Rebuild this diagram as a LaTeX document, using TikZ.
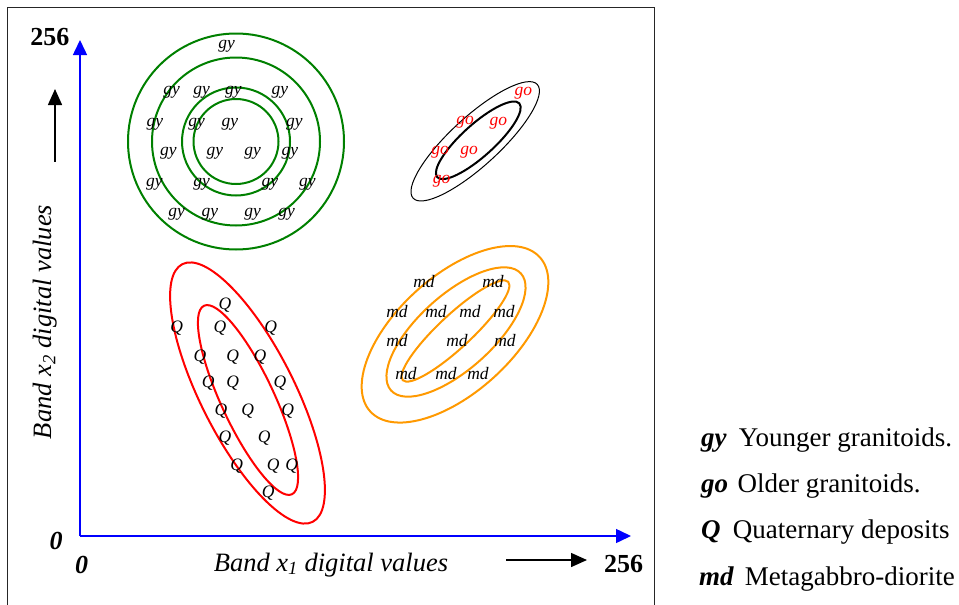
\documentclass[tikz,border=0pt]{standalone}
\usepackage{fontspec}
\setmainfont{Liberation Serif}
\usetikzlibrary{arrows.meta}
\definecolor{ringgreen}{RGB}{0,128,0}
\definecolor{ringorange}{RGB}{255,153,0}
\begin{document}
\begin{tikzpicture}[x=1pt,y=-1pt,
  lab/.style={font=\fontsize{17.5}{17.5}\selectfont\itshape, inner sep=0pt},
  golab/.style={lab, text=red},
  big/.style={font=\fontsize{26}{26}\selectfont\bfseries, inner sep=0pt},
  bigit/.style={font=\fontsize{26}{26}\selectfont\bfseries\itshape, inner sep=0pt},
  axistitle/.style={font=\fontsize{26.5}{26.5}\selectfont\itshape, inner sep=0pt, anchor=base},
  legend/.style={font=\fontsize{27}{27}\selectfont, inner sep=0pt, anchor=base west},
  axis/.style={blue, line width=1.5pt, -{Triangle[length=15pt,width=14pt]}},
  hint/.style={black, line width=1.5pt, -{Triangle[length=16pt,width=14pt]}},
  ring/.style={line width=2pt},
]
\useasboundingbox (0,0) rectangle (959,605);

% open frame around the scatter plot
\draw[line width=1pt, black!85] (7.5,605) -- (7.5,7.5) -- (654,7.5) -- (654,605);

% axes
\coordinate (O) at (80,536);
\coordinate (ytop) at (80,40);
\coordinate (xend) at (631,536);
\draw[axis] (O) -- (ytop);
\draw[axis] (O) -- (xend);

\node[big] (ymax) at (50,37.5) {256};
\node[big] (xmax) at (623.5,564) {256};
\node[bigit] (yzero) at (56,541) {0};
\node[bigit] (xzero) at (81.5,565) {0};

\node[axistitle] (xtitle) at (331,571) {Band x\textsubscript{1} digital values};
\node[axistitle, rotate=90] (ytitle) at (51.7,322) {Band x\textsubscript{2} digital values};

\coordinate (xa1) at (506,560);
\coordinate (xa2) at (587,560);
\draw[hint] (xa1) -- (xa2);
\coordinate (ya1) at (55,161.7);
\coordinate (ya2) at (55,89);
\draw[hint] (ya1) -- (ya2);

% younger granitoids: concentric rings
\coordinate (gc) at (236,141.5);
\foreach \r in {108,84,54,42.5}
  \draw[ring, ringgreen] (gc) circle[radius=\r];
\foreach \p in {(226.7,46),
  (171.7,92.5),(201.7,92.5),(233.3,92.5),(280,92.5),
  (155,124),(196.7,124),(230,124),(294.3,124),
  (168.3,153.5),(215,153.5),(252.7,153.5),(290,153.5),
  (154.3,184),(201.7,184),(270,184),(307.3,184),
  (176.7,214),(210,214),(252.7,214),(286.7,214)}
  \node[lab] at \p {gy};

% older granitoids
\draw[line width=1pt, rotate around={42.5:(475.2,141.3)}] (475.2,141.3) ellipse[x radius=84.2, y radius=24.4];
\draw[ring, rotate around={42:(478.3,140.3)}] (478.3,140.3) ellipse[x radius=55.2, y radius=16];
\foreach \p in {(523.3,93),(465,122.5),(498.3,123),(440,152),(469,152),(441.7,181)}
  \node[golab] at \p {go};

% quaternary deposits
\draw[ring, red, rotate around={-63.2:(247.5,393)}] (247.5,393) ellipse[x radius=144.4, y radius=46.9];
\draw[ring, red, rotate around={-65:(248,400)}] (248,400) ellipse[x radius=104, y radius=26.5];
\foreach \p in {(225,305),
  (176.7,328.3),(220,328.3),(270.7,328.3),
  (200,356.7),(232.7,356.7),(260,356.7),
  (208.3,382.7),(232.7,382.7),(280,382.7),
  (221,411),(247.7,411),(287.7,411),
  (225,438.3),(264.3,438.3),
  (236.7,466),(273.3,466),(291.7,466),
  (268.3,493.3)}
  \node[lab] at \p {Q};

% metagabbro-diorite
\draw[ring, ringorange, rotate around={42.3:(455,334.3)}] (455,334.3) ellipse[x radius=114.6, y radius=58];
\draw[ring, ringorange, rotate around={42:(456,332)}] (456,332) ellipse[x radius=87.4, y radius=37.2];
\draw[ring, ringorange, rotate around={43:(455.5,331)}] (455.5,331) ellipse[x radius=72.1, y radius=16.5];
\foreach \p in {(424,282),(493,282),
  (397,311.7),(436,311.7),(470,311.7),(504,311.7),
  (397,341),(457,341),(505,341),
  (406,374),(446,374),(478,374)}
  \node[lab] at \p {md};

% legend
\node[legend] (lgy) at (701,446.7) {\textbf{\textit{gy}}\hspace{0.45em}Younger granitoids.};
\node[legend] (lgo) at (701,492.7) {\textbf{\textit{go}}\hspace{0.35em}Older granitoids.};
\node[legend] (lq) at (701,538.3) {\textbf{\textit{Q}}\hspace{0.45em}Quaternary deposits};
\node[legend] (lmd) at (699,585) {\textbf{\textit{md}}\hspace{0.4em}Metagabbro-diorite};
\end{tikzpicture}
\end{document}
